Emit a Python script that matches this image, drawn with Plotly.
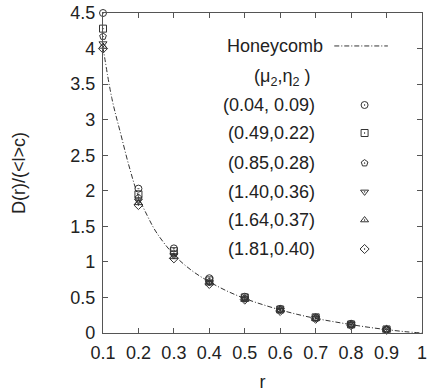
import plotly.graph_objects as go

# ---- data ----
r_pts = [0.1, 0.2, 0.3, 0.4, 0.5, 0.6, 0.7, 0.8, 0.9]
series_labels = ["(0.04, 0.09)", "(0.49,0.22)", "(0.85,0.28)",
                 "(1.40,0.36)", "(1.64,0.37)", "(1.81,0.40)"]
series_symbols = ["circle-open-dot", "square-open-dot", "pentagon-open-dot",
                  "triangle-down-open-dot", "triangle-up-open-dot", "diamond-open-dot"]
s1 = [4.50, 2.03, 1.19, 0.77, 0.51, 0.34, 0.22, 0.13, 0.05]
s2 = [4.28, 1.95, 1.15, 0.74, 0.50, 0.33, 0.22, 0.12, 0.05]
s3 = [4.17, 1.90, 1.12, 0.72, 0.49, 0.33, 0.21, 0.12, 0.05]
s4 = [4.07, 1.86, 1.09, 0.71, 0.48, 0.32, 0.21, 0.12, 0.045]
s5 = [4.03, 1.83, 1.07, 0.70, 0.47, 0.32, 0.20, 0.11, 0.045]
s6 = [4.00, 1.80, 1.05, 0.69, 0.47, 0.31, 0.20, 0.11, 0.045]
series_values = [s1, s2, s3, s4, s5, s6]

r_curve = [0.1, 0.125, 0.15, 0.175, 0.2, 0.225, 0.25, 0.3, 0.35, 0.4, 0.45,
           0.5, 0.55, 0.6, 0.65, 0.7, 0.75, 0.8, 0.85, 0.9, 0.95, 1.0]
honeycomb = [4.02, 3.30, 2.80, 2.32, 1.92, 1.65, 1.42, 1.10, 0.88, 0.72, 0.59,
             0.485, 0.40, 0.325, 0.26, 0.205, 0.16, 0.118, 0.08, 0.048, 0.02, 0.0]

x_ticks = [0.1, 0.2, 0.3, 0.4, 0.5, 0.6, 0.7, 0.8, 0.9, 1.0]
x_ticklabels = ["0.1", "0.2", "0.3", "0.4", "0.5", "0.6", "0.7", "0.8", "0.9", "1"]
y_ticks = [0, 0.5, 1, 1.5, 2, 2.5, 3, 3.5, 4, 4.5]
y_ticklabels = ["0", "0.5", "1", "1.5", "2", "2.5", "3", "3.5", "4", "4.5"]

# ---- style ----
INK = "#333333"
TXT = "#222222"
FONT = "Liberation Sans, Arial, sans-serif"
FS = 18
DASH = "5px,2px,1px,2px"

fig = go.Figure()

fig.add_trace(go.Scatter(x=r_curve, y=honeycomb, mode="lines",
                         line=dict(color=INK, width=1, dash=DASH, shape="spline"),
                         showlegend=False, hoverinfo="skip"))

for vals, sym in zip(series_values, series_symbols):
    fig.add_trace(go.Scatter(x=r_pts, y=vals, mode="markers", cliponaxis=False,
                             marker=dict(symbol=sym, size=7, color=INK,
                                         line=dict(color=INK, width=1)),
                             showlegend=False))

# ---- custom legend (text left, key right) ----
key_x = 0.82
row_y = [0.7125, 0.625, 0.531, 0.441, 0.353, 0.2625]
fig.add_trace(go.Scatter(x=[0.725, 0.893], y=[0.897, 0.897], mode="lines",
                         xaxis="x2", yaxis="y2",
                         line=dict(color=INK, width=1, dash=DASH),
                         showlegend=False, hoverinfo="skip"))
for yy, sym in zip(row_y, series_symbols):
    fig.add_trace(go.Scatter(x=[key_x], y=[yy], mode="markers", xaxis="x2", yaxis="y2",
                             marker=dict(symbol=sym, size=7, color=INK,
                                         line=dict(color=INK, width=1)),
                             showlegend=False, hoverinfo="skip"))

annotations = [
    dict(text="Honeycomb", x=0.695, y=0.897, xanchor="right", yanchor="middle"),
    dict(text="(μ<sub>2</sub>,η<sub>2</sub> )", x=0.56, y=0.797, xanchor="center", yanchor="middle"),
]
for yy, lab in zip(row_y, series_labels):
    annotations.append(dict(text=lab, x=0.672, y=yy, xanchor="right", yanchor="middle"))
for a in annotations:
    a.update(xref="paper", yref="paper", showarrow=False, font=dict(size=FS, color=TXT, family=FONT))

axis_common = dict(showline=True, linecolor="#555555", linewidth=1.2, mirror="ticks",
                   ticks="inside", ticklen=5, tickcolor="#555555", tickwidth=1,
                   showgrid=False, zeroline=False, automargin=False,
                   tickfont=dict(size=FS, color=TXT, family=FONT))

fig.update_layout(
    width=429, height=392,
    margin=dict(l=103, r=7, t=13, b=59),
    paper_bgcolor="white", plot_bgcolor="white",
    font=dict(family=FONT, color=TXT, size=FS),
    xaxis=dict(range=[0.1, 1.0], tickvals=x_ticks, ticktext=x_ticklabels,
               ticklabelstandoff=3,
               title=dict(text="r", font=dict(size=FS, color=TXT), standoff=15), **axis_common),
    yaxis=dict(range=[0, 4.5], tickvals=y_ticks, ticktext=y_ticklabels,
               ticklabelstandoff=3,
               title=dict(text="D(r)/(<l>c)", font=dict(size=FS, color=TXT), standoff=39), **axis_common),
    xaxis2=dict(range=[0, 1], overlaying="x", visible=False, fixedrange=True),
    yaxis2=dict(range=[0, 1], overlaying="y", visible=False, fixedrange=True),
    annotations=annotations,
)

fig.write_html("out.html")
